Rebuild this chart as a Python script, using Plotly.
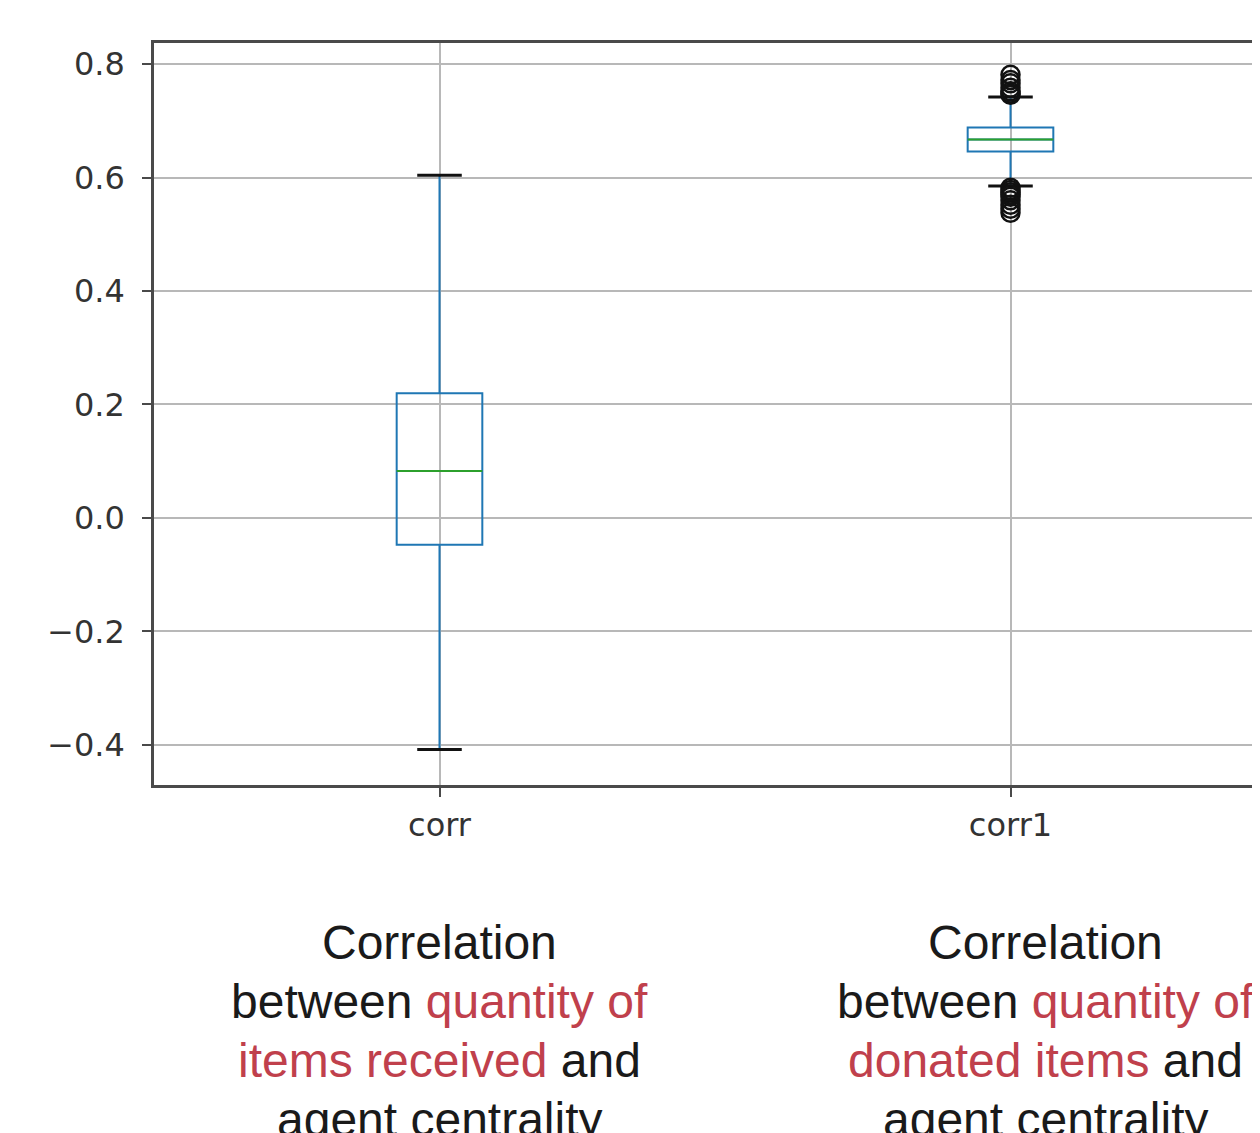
import plotly.graph_objects as go

# ---- data ----
categories = ["corr", "corr1"]
positions = [1, 2]
q1 = [-0.047, 0.646]
median = [0.083, 0.667]
q3 = [0.220, 0.688]
lower_whisker = [-0.408, 0.585]
upper_whisker = [0.604, 0.742]
outliers_corr1 = [0.781, 0.772, 0.766, 0.758, 0.752, 0.748, 0.746,
                  0.582, 0.578, 0.574, 0.570, 0.566, 0.560, 0.552, 0.545, 0.538]
y_tickvals = [-0.4, -0.2, 0.0, 0.2, 0.4, 0.6, 0.8]
y_ticktext = ["\u22120.4", "\u22120.2", "0.0", "0.2", "0.4", "0.6", "0.8"]

RED = "#c0404c"
BLACK = "#1a1a1a"
caption_lines = [
    ["Correlation",
     f'between <span style="color:{RED}">quantity of</span>',
     f'<span style="color:{RED}">items received</span> and',
     "agent centrality"],
    ["Correlation",
     f'between <span style="color:{RED}">quantity of</span>',
     f'<span style="color:{RED}">donated items</span> and',
     "agent centrality"],
]

BOX_W = 0.15
CAP_W = 0.078
BLUE = "#1f77b4"
GREEN = "#2ca02c"

fig = go.Figure()

for i, p in enumerate(positions):
    fig.add_trace(go.Box(
        x=[p], q1=[q1[i]], median=[median[i]], q3=[q3[i]],
        lowerfence=[lower_whisker[i]], upperfence=[upper_whisker[i]],
        width=BOX_W, whiskerwidth=0, boxpoints=False,
        line=dict(color=BLUE, width=2), fillcolor="rgba(0,0,0,0)",
        showlegend=False, hoverinfo="skip",
    ))
    # median line
    fig.add_trace(go.Scatter(
        x=[p - BOX_W / 2, p + BOX_W / 2], y=[median[i], median[i]],
        mode="lines", line=dict(color=GREEN, width=2),
        showlegend=False, hoverinfo="skip",
    ))
    # caps
    fig.add_trace(go.Scatter(
        x=[p - CAP_W / 2, p + CAP_W / 2, None, p - CAP_W / 2, p + CAP_W / 2],
        y=[lower_whisker[i], lower_whisker[i], None, upper_whisker[i], upper_whisker[i]],
        mode="lines", line=dict(color="#111111", width=3),
        showlegend=False, hoverinfo="skip",
    ))

fig.add_trace(go.Scatter(
    x=[positions[1]] * len(outliers_corr1), y=outliers_corr1,
    mode="markers",
    marker=dict(symbol="circle-open", size=18, color="#111111", line=dict(width=2.5)),
    showlegend=False, hoverinfo="skip",
))

# captions
line_paper_y = [-0.212, -0.292, -0.371, -0.451]
caption_x = [1.0, 2.062]
for c, lines in enumerate(caption_lines):
    for j, txt in enumerate(lines):
        fig.add_annotation(
            x=caption_x[c], xref="x", y=line_paper_y[j], yref="paper",
            text=txt, showarrow=False, xanchor="center", yanchor="middle",
            font=dict(family="Liberation Sans, Arial, sans-serif", size=48, color=BLACK),
        )

# the page body adds an 8px offset; compensate in figure size/margins
L, T, B = 146, 35, 348
W, H = 1252, 1125
plot_w = W - L
fig.update_layout(
    width=W, height=H,
    margin=dict(l=L, r=0, t=T, b=B, pad=0),
    paper_bgcolor="white", plot_bgcolor="white",
    font=dict(family="DejaVu Sans", size=32, color="#333333"),
    xaxis=dict(
        range=[0.5, 0.5 + plot_w / 571.0],
        tickvals=positions, ticktext=categories,
        showgrid=True, gridcolor="#b8b8b8", gridwidth=1.5,
        showline=True, linecolor="#4a4a4a", linewidth=2.5, mirror=True,
        ticks="outside", ticklen=9, tickwidth=2, tickcolor="#4a4a4a",
        ticklabelstandoff=1, zeroline=False,
        tickfont=dict(family="DejaVu Sans", size=32, color="#333333"),
    ),
    yaxis=dict(
        range=[-0.4705, 0.837],
        tickvals=y_tickvals, ticktext=y_ticktext,
        showgrid=True, gridcolor="#b8b8b8", gridwidth=1.5,
        showline=True, linecolor="#4a4a4a", linewidth=2.5, mirror=False,
        ticks="outside", ticklen=9, tickwidth=2, tickcolor="#4a4a4a",
        ticklabelstandoff=11, zeroline=False,
        tickfont=dict(family="DejaVu Sans", size=32, color="#333333"),
    ),
)

fig.write_html("out.html")
